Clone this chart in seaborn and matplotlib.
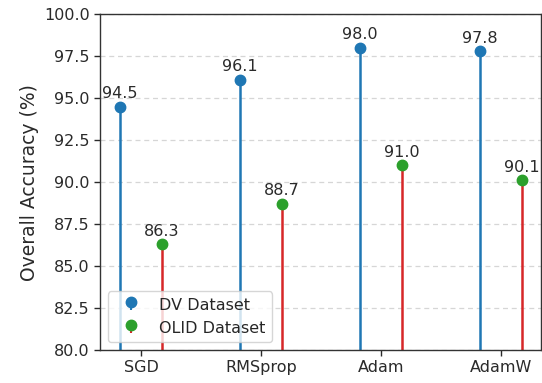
import matplotlib
matplotlib.use("Agg")
import matplotlib.pyplot as plt
import seaborn as sns
import numpy as np

optimizers = ["SGD", "RMSprop", "Adam", "AdamW"]
dv_acc = [94.5, 96.1, 98.0, 97.8]
olid_acc = [86.3, 88.7, 91.0, 90.1]

sns.set_style("white")
plt.rcParams["font.family"] = ["DejaVu Sans"]
pal = sns.color_palette("tab10")
blue, green, red = pal[0], pal[2], pal[3]

fig = plt.figure(figsize=(5.42, 3.83), dpi=100)
ax = fig.add_axes([0.185, 0.086, 0.813, 0.877])

x = np.arange(len(optimizers))
off = 0.175

m1, s1, b1 = ax.stem(x - off, dv_acc, bottom=80, basefmt=" ", label="DV Dataset")
plt.setp(s1, color=blue, linewidth=1.8)
plt.setp(m1, color=blue, markersize=7.5)

m2, s2, b2 = ax.stem(x + off, olid_acc, bottom=80, basefmt=" ", label="OLID Dataset")
plt.setp(s2, color=red, linewidth=1.8)
plt.setp(m2, color=green, markersize=7.5)

# value labels above each marker
for xi, v in zip(x - off, dv_acc):
    ax.annotate(f"{v:.1f}", (xi, v), xytext=(0, 4), textcoords="offset points",
                ha="center", va="bottom", fontsize=11.5, color="#2a2a2a")
for xi, v in zip(x + off, olid_acc):
    ax.annotate(f"{v:.1f}", (xi, v), xytext=(0, 4), textcoords="offset points",
                ha="center", va="bottom", fontsize=11.5, color="#2a2a2a")

ax.set_ylim(80, 100)
ax.set_xlim(-0.34, 3.33)
ax.set_xticks(x)
ax.set_xticklabels(optimizers)
ax.set_yticks(np.arange(80, 100.1, 2.5))
ax.yaxis.set_major_formatter(matplotlib.ticker.FormatStrFormatter("%.1f"))
ax.tick_params(axis="both", labelsize=11.5, length=4, width=1, colors="#2a2a2a",
               direction="out", bottom=True, left=True)
ax.set_ylabel("Overall Accuracy (%)", fontsize=13.5, color="#2a2a2a")
ax.yaxis.grid(True, linestyle=(0, (4, 3)), color="#d6d6d6", linewidth=0.9)
ax.set_axisbelow(True)
for sp in ax.spines.values():
    sp.set_color("#333333")
    sp.set_linewidth(1)

ax.legend(loc="lower left", fontsize=11.5, frameon=True)

fig.savefig("out.png", dpi=100)
